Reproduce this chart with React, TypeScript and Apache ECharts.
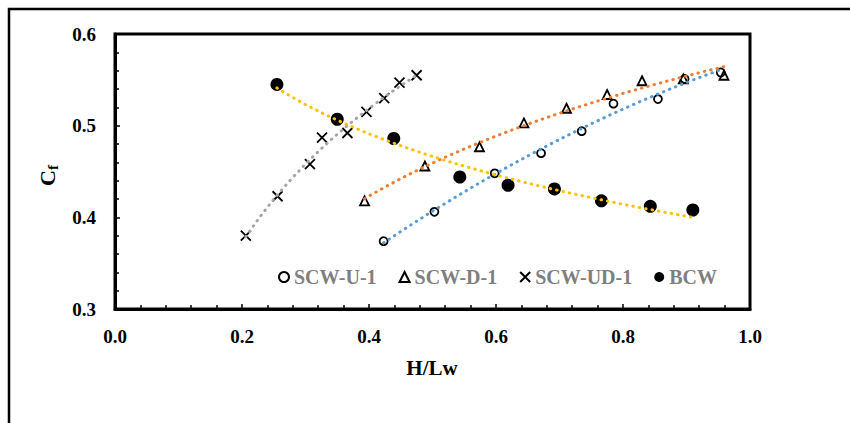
import React, { useEffect, useRef } from 'react';
import * as echarts from 'echarts';

// H/Lw and Cf values
const uX = [0.423, 0.503, 0.598, 0.671, 0.735, 0.785, 0.855, 0.897, 0.954];
const uY = [0.374, 0.406, 0.448, 0.470, 0.494, 0.524, 0.529, 0.551, 0.558];
const dX = [0.393, 0.488, 0.574, 0.644, 0.711, 0.775, 0.830, 0.895, 0.959];
const dY = [0.418, 0.456, 0.477, 0.503, 0.519, 0.534, 0.549, 0.551, 0.555];
const udX = [0.206, 0.256, 0.307, 0.326, 0.366, 0.396, 0.424, 0.448, 0.475];
const udY = [0.380, 0.423, 0.458, 0.487, 0.492, 0.515, 0.530, 0.547, 0.555];
const bX = [0.255, 0.350, 0.439, 0.543, 0.619, 0.692, 0.766, 0.843, 0.910];
const bY = [0.545, 0.507, 0.486, 0.444, 0.435, 0.431, 0.418, 0.412, 0.408];

const seriesNames = ['SCW-U-1', 'SCW-D-1', 'SCW-UD-1', 'BCW'];
const trendColors = ['#5B9BD5', '#ED7D31', '#A5A5A5', '#FFC000'];
const trendKinds = ['poly2', 'log', 'log', 'log'];

function solve3(M: number[][]) {
  for (let c = 0; c < 3; c++) {
    let p = c;
    for (let r = c + 1; r < 3; r++) if (Math.abs(M[r][c]) > Math.abs(M[p][c])) p = r;
    const tmp = M[c]; M[c] = M[p]; M[p] = tmp;
    for (let r = 0; r < 3; r++) {
      if (r === c) continue;
      const f = M[r][c] / M[c][c];
      for (let k = c; k < 4; k++) M[r][k] -= f * M[c][k];
    }
  }
  return [M[0][3] / M[0][0], M[1][3] / M[1][1], M[2][3] / M[2][2]];
}

function trendPoints(xs: number[], ys: number[], kind: string) {
  let fn: (x: number) => number;
  if (kind === 'log') {
    const n = xs.length;
    const lx = xs.map((x) => Math.log(x));
    const mx = lx.reduce((a, b) => a + b, 0) / n;
    const my = ys.reduce((a, b) => a + b, 0) / n;
    let sxy = 0, sxx = 0;
    for (let i = 0; i < n; i++) { sxy += (lx[i] - mx) * (ys[i] - my); sxx += (lx[i] - mx) ** 2; }
    const b = sxy / sxx, a = my - b * mx;
    fn = (x) => a + b * Math.log(x);
  } else {
    let s0 = 0, s1 = 0, s2 = 0, s3 = 0, s4 = 0, t0 = 0, t1 = 0, t2 = 0;
    for (let i = 0; i < xs.length; i++) {
      const x = xs[i], y = ys[i];
      s0 += 1; s1 += x; s2 += x * x; s3 += x ** 3; s4 += x ** 4;
      t0 += y; t1 += x * y; t2 += x * x * y;
    }
    const [a, b, c] = solve3([[s0, s1, s2, t0], [s1, s2, s3, t1], [s2, s3, s4, t2]]);
    fn = (x) => a + b * x + c * x * x;
  }
  const lo = Math.min(...xs), hi = Math.max(...xs);
  const pts: number[][] = [];
  const n = 60;
  for (let i = 0; i <= n; i++) {
    const x = lo + (hi - lo) * i / n;
    pts.push([x, fn(x)]);
  }
  return pts;
}

const zip = (xs: number[], ys: number[]) => xs.map((x, i) => [x, ys[i]]);

const FONT = 'Liberation Serif';

export default function App() {
  const ref = useRef<HTMLDivElement>(null);
  useEffect(() => {
    if (!ref.current) return;
    const chart = echarts.init(ref.current, undefined, { renderer: 'svg' });
    const markerBorder = { borderColor: '#000', borderWidth: 1.8, opacity: 1 };
    const trend = (i: number, xs: number[], ys: number[]) => ({
      type: 'line',
      name: 'trend' + i,
      data: trendPoints(xs, ys, trendKinds[i]),
      showSymbol: false,
      symbol: 'none',
      silent: true,
      z: 5,
      lineStyle: { color: trendColors[i], width: 3, type: [0.5, 6], cap: 'round', opacity: 1 },
    });
    chart.setOption({
      animation: false,
      backgroundColor: '#fff',
      grid: {
        left: 115, top: 34, right: 100, bottom: 114,
        show: true, borderColor: '#000', borderWidth: 3, containLabel: false,
      },
      legend: {
        data: seriesNames,
        left: 278, top: 267, padding: 0,
        itemWidth: 10, itemHeight: 10, itemGap: 22,
        textStyle: { color: '#7F7F7F', fontFamily: FONT, fontWeight: 'bold', fontSize: 20 },
      },
      xAxis: {
        type: 'value', min: 0, max: 1, interval: 0.2,
        axisLine: { lineStyle: { color: '#000', width: 3 } },
        axisTick: { inside: true, length: 5, lineStyle: { color: '#000', width: 1.5 } },
        minorTick: { show: true, splitNumber: 5, length: 4, lineStyle: { color: '#000', width: 1.5 } },
        splitLine: { show: false },
        axisLabel: {
          margin: 18, color: '#000', fontFamily: FONT, fontWeight: 'bold', fontSize: 19,
          formatter: (v: number) => v.toFixed(1),
        },
      },
      yAxis: {
        type: 'value', min: 0.3, max: 0.6, interval: 0.1,
        axisLine: { show: true, lineStyle: { color: '#000', width: 3 } },
        axisTick: { show: true, inside: true, length: 5, lineStyle: { color: '#000', width: 1.5 } },
        minorTick: { show: true, splitNumber: 5, length: 4, lineStyle: { color: '#000', width: 1.5 } },
        splitLine: { show: false },
        axisLabel: {
          margin: 19, color: '#000', fontFamily: FONT, fontWeight: 'bold', fontSize: 19,
          formatter: (v: number) => v.toFixed(1),
        },
      },
      graphic: [
        {
          type: 'rect', silent: true, z: 100,
          shape: { x: 9, y: 9, width: 1000, height: 1000 },
          style: { fill: 'none', stroke: '#000', lineWidth: 2.5 },
        },
        {
          type: 'text', x: 432, y: 368, silent: true,
          style: {
            text: 'H/Lw', fill: '#000', font: `bold 21px "${FONT}"`,
            textAlign: 'center', textVerticalAlign: 'middle',
          },
        },
        {
          type: 'group', x: 47, y: 178, rotation: Math.PI / 2, silent: true,
          children: [
            {
              type: 'text', x: 0, y: 0,
              style: {
                text: 'C', fill: '#000', font: `bold 22px "${FONT}"`,
                textAlign: 'center', textVerticalAlign: 'middle',
              },
            },
            {
              type: 'text', x: 8, y: 6,
              style: {
                text: 'f', fill: '#000', font: `bold 15px "${FONT}"`,
                textAlign: 'left', textVerticalAlign: 'middle',
              },
            },
          ],
        },
      ],
      series: [
        {
          type: 'scatter', name: seriesNames[0], data: zip(uX, uY), symbol: 'circle', symbolSize: 8, z: 3,
          itemStyle: { color: 'rgba(0,0,0,0)', ...markerBorder },
        },
        {
          type: 'scatter', name: seriesNames[1], data: zip(dX, dY), symbol: 'triangle', symbolSize: 9, z: 3,
          itemStyle: { color: 'rgba(0,0,0,0)', ...markerBorder },
        },
        {
          type: 'scatter', name: seriesNames[2], data: zip(udX, udY), symbol: 'path://M0,0L10,10M10,0L0,10', symbolSize: 10, z: 3,
          itemStyle: { color: 'rgba(0,0,0,0)', ...markerBorder },
        },
        {
          type: 'scatter', name: seriesNames[3], data: zip(bX, bY), symbol: 'circle', symbolSize: 13, z: 3,
          itemStyle: { color: '#000', opacity: 1 },
        },
        trend(0, uX, uY),
        trend(1, dX, dY),
        trend(2, udX, udY),
        trend(3, bX, bY),
      ],
    });
    return () => chart.dispose();
  }, []);
  return <div ref={ref} style={{ position: 'fixed', left: 0, top: 0, width: 850, height: 423 }} />;
}
